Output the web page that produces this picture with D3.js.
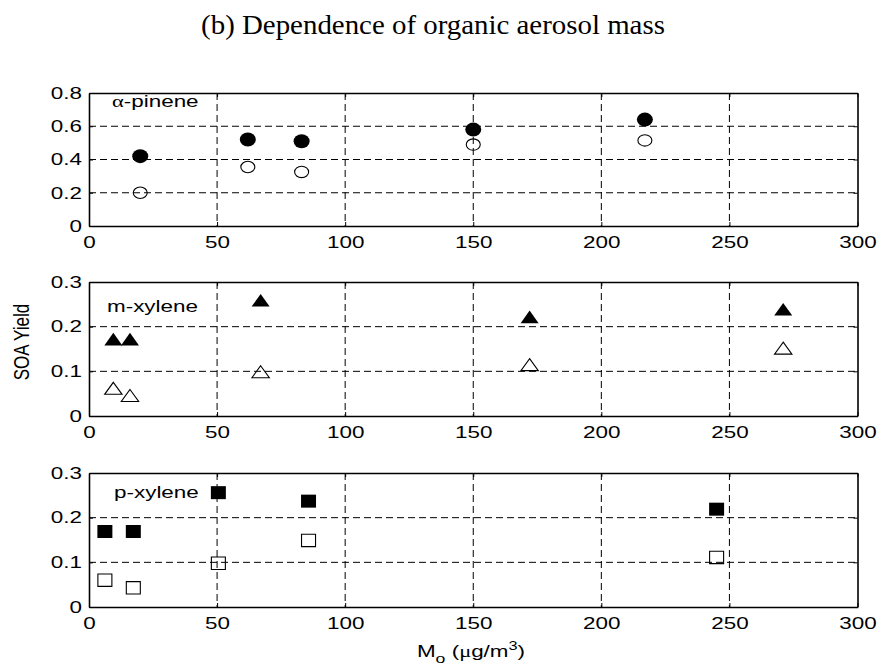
<!DOCTYPE html>
<html><head><meta charset="utf-8">
<script src="https://cdn.jsdelivr.net/npm/d3@7"></script>
<style>
html,body{margin:0;padding:0;background:#fff;}
svg{display:block;}
text{font-family:"Liberation Sans",Arial,Helvetica,sans-serif;fill:#000;}
</style></head>
<body>
<svg id="chart" width="880" height="669"></svg>
<script>
// ---- data ----
const xTicks = [0, 50, 100, 150, 200, 250, 300];
const pineneX = [20, 62, 83, 150, 217];
const pineneFilled = [0.42, 0.52, 0.51, 0.58, 0.64];
const pineneOpen = [0.20, 0.355, 0.325, 0.49, 0.515];
const pineneTicks = [0, 0.2, 0.4, 0.6, 0.8];

const mxyleneX = [9.5, 16, 67, 172, 271];
const mxyleneFilled = [0.172, 0.172, 0.259, 0.222, 0.239];
const mxyleneOpen = [0.062, 0.046, 0.099, 0.115, 0.152];
const mxyleneTicks = [0, 0.1, 0.2, 0.3];

const pxyleneX = [6.2, 17.3, 50.5, 85.7, 245];
const pxyleneFilled = [0.169, 0.169, 0.256, 0.237, 0.219];
const pxyleneOpen = [0.060, 0.043, 0.098, 0.149, 0.111];
const pxyleneTicks = [0, 0.1, 0.2, 0.3];

const titleText = "(b) Dependence of organic aerosol mass";
// ---- layout ----
const svg = d3.select("#chart");
const X0 = 89, X1 = 857.5;
const SX = 1.36; // horizontal stretch of sans text in the reference
const x = d3.scaleLinear().domain([0, 300]).range([X0, X1]);

svg.append("text").attr("transform", "translate(433,34) scale(1.07,1)").attr("text-anchor", "middle")
  .style("font-family", '"Liberation Serif","Times New Roman",serif')
  .style("font-size", "27px").text(titleText);

const markerPaths = {
  circleF: "M-8,0A8,7 0 1,0 8,0A8,7 0 1,0 -8,0Z",
  circleO: "M-7,0A7,5.7 0 1,0 7,0A7,5.7 0 1,0 -7,0Z",
  triF: "M0,-6.3L9,6.3L-9,6.3Z",
  triO: "M0,-6L8.7,6L-8.7,6Z",
  sqF: "M-7.5,-6.5H7.5V6.5H-7.5Z",
  sqO: "M-7,-6.2H7V6.2H-7Z"
};

function panel(top, bottom, ymax, yTicks, xs, filled, open, mF, mO, label, lx, ly) {
  const y = d3.scaleLinear().domain([0, ymax]).range([bottom, top]);
  const g = svg.append("g");
  // grid
  const dash = "7,4";
  g.selectAll(".gx").data(xTicks.slice(1, -1)).enter().append("line")
    .attr("x1", d => x(d)).attr("x2", d => x(d)).attr("y1", top).attr("y2", bottom)
    .attr("stroke", "#000").attr("stroke-width", 1).attr("stroke-dasharray", dash);
  g.selectAll(".gy").data(yTicks.slice(1, -1)).enter().append("line")
    .attr("x1", X0).attr("x2", X1).attr("y1", d => y(d)).attr("y2", d => y(d))
    .attr("stroke", "#000").attr("stroke-width", 1).attr("stroke-dasharray", dash);
  // axes
  const ax = g.append("g").attr("transform", `translate(0,${bottom})`)
    .call(d3.axisBottom(x).tickValues(xTicks).tickSizeInner(-4).tickSizeOuter(0).tickPadding(10).tickFormat(d3.format("d")));
  const ay = g.append("g").attr("transform", `translate(${X0},0)`)
    .call(d3.axisLeft(y).tickValues(yTicks).tickSizeInner(-4).tickSizeOuter(0).tickPadding(7).tickFormat(d => d === 0 ? "0" : d3.format(".1f")(d)));
  const at = g.append("g").attr("transform", `translate(0,${top})`)
    .call(d3.axisTop(x).tickValues(xTicks).tickSizeInner(-4).tickSizeOuter(0).tickFormat(""));
  const ar = g.append("g").attr("transform", `translate(${X1},0)`)
    .call(d3.axisRight(y).tickValues(yTicks).tickSizeInner(-4).tickSizeOuter(0).tickFormat(""));
  [ax, ay, at, ar].forEach(a => {
    a.select(".domain").attr("stroke", "#000").attr("stroke-width", 1.6);
    a.selectAll(".tick line").attr("stroke", "#000");
    a.selectAll("text").style("font-size", "16.5px").style("font-family", '"Liberation Sans",Arial,sans-serif').attr("fill", "#000");
  });
  ax.selectAll("text").attr("dy", "0.71em").attr("transform", `scale(${SX},1)`);
  ay.selectAll("text").attr("x", -7 / SX).attr("transform", `scale(${SX},1)`);
  // series
  g.selectAll(".mo").data(xs.map((v, i) => [v, open[i]])).enter().append("path")
    .attr("d", markerPaths[mO])
    .attr("transform", d => `translate(${x(d[0])},${y(d[1])})`)
    .attr("fill", "none").attr("stroke", "#000").attr("stroke-width", 1.1);
  g.selectAll(".mf").data(xs.map((v, i) => [v, filled[i]])).enter().append("path")
    .attr("d", markerPaths[mF])
    .attr("transform", d => `translate(${x(d[0])},${y(d[1])})`)
    .attr("fill", "#000").attr("stroke", "none");
  g.append("text").attr("transform", `translate(${lx},${ly}) scale(${SX},1)`).style("font-size", "16.5px").html(label);
}

panel(93, 226, 0.8, pineneTicks, pineneX, pineneFilled, pineneOpen, "circleF", "circleO",
  '<tspan style="font-family:\'Liberation Serif\',serif">α</tspan>-pinene', 112, 107);
panel(282, 416, 0.3, mxyleneTicks, mxyleneX, mxyleneFilled, mxyleneOpen, "triF", "triO",
  "m-xylene", 107, 312);
panel(473, 607, 0.3, pxyleneTicks, pxyleneX, pxyleneFilled, pxyleneOpen, "sqF", "sqO",
  "p-xylene", 114, 498);

svg.append("text").attr("transform", "translate(29,342) rotate(-90) scale(1,1.3)").attr("text-anchor", "middle")
  .style("font-size", "17px").text("SOA Yield");
svg.append("text").attr("transform", `translate(471,657) scale(${SX},1)`).attr("text-anchor", "middle").style("font-size", "16.5px")
  .html('M<tspan dy="6" font-size="13px">o</tspan><tspan dy="-6"> (</tspan><tspan style="font-family:\'Liberation Serif\',serif">μ</tspan>g/m<tspan dy="-7" font-size="12px">3</tspan><tspan dy="7">)</tspan>');
</script>
</body></html>
